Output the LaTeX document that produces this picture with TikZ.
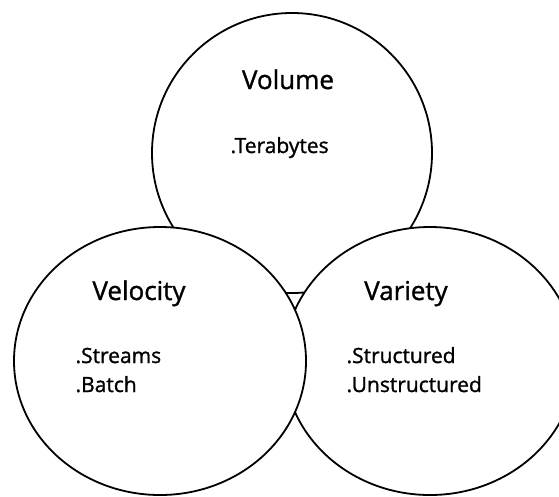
\documentclass[tikz,border=0pt]{standalone}
\usepackage{fontspec}
\setmainfont{Open Sans}
\newfontfamily\diagfont{Open Sans}[FakeBold=1.2]
\usetikzlibrary{shapes.geometric}

\begin{document}
\begin{tikzpicture}[
  x=1pt, y=-1pt,
  blob/.style={draw=black, fill=white, line width=1.8pt, ellipse, minimum width=#1, minimum height=268pt, inner sep=0pt},
  blob/.default=292pt,
  ttl/.style={anchor=base, font=\diagfont\fontsize{26}{30}\selectfont},
  itm/.style={anchor=base west, font=\diagfont\fontsize{21}{29}\selectfont},
]
\useasboundingbox (0,0) rectangle (559,496);
\clip (0,0) rectangle (559,496);
% back to front
\node[blob=280pt, minimum height=280pt] (volume) at (292,153) {};
\node[blob] (variety) at (430,361) {};
\node[blob] (velocity) at (160,361) {};
\node[ttl] (voltitle) at (288,89) {Volume};
\node[itm] (tera) at (227,153) {.Terabytes};
\node[ttl] (veltitle) at (139,300) {Velocity};
\node[itm] (streams) at (72,363) {.Streams};
\node[itm] (batch) at (72,392) {.Batch};
\node[ttl] (vartitle) at (406,300) {Variety};
\node[itm] (struct) at (343,363) {.Structured};
\node[itm] (unstruct) at (343,392) {.Unstructured};
\end{tikzpicture}
\end{document}
